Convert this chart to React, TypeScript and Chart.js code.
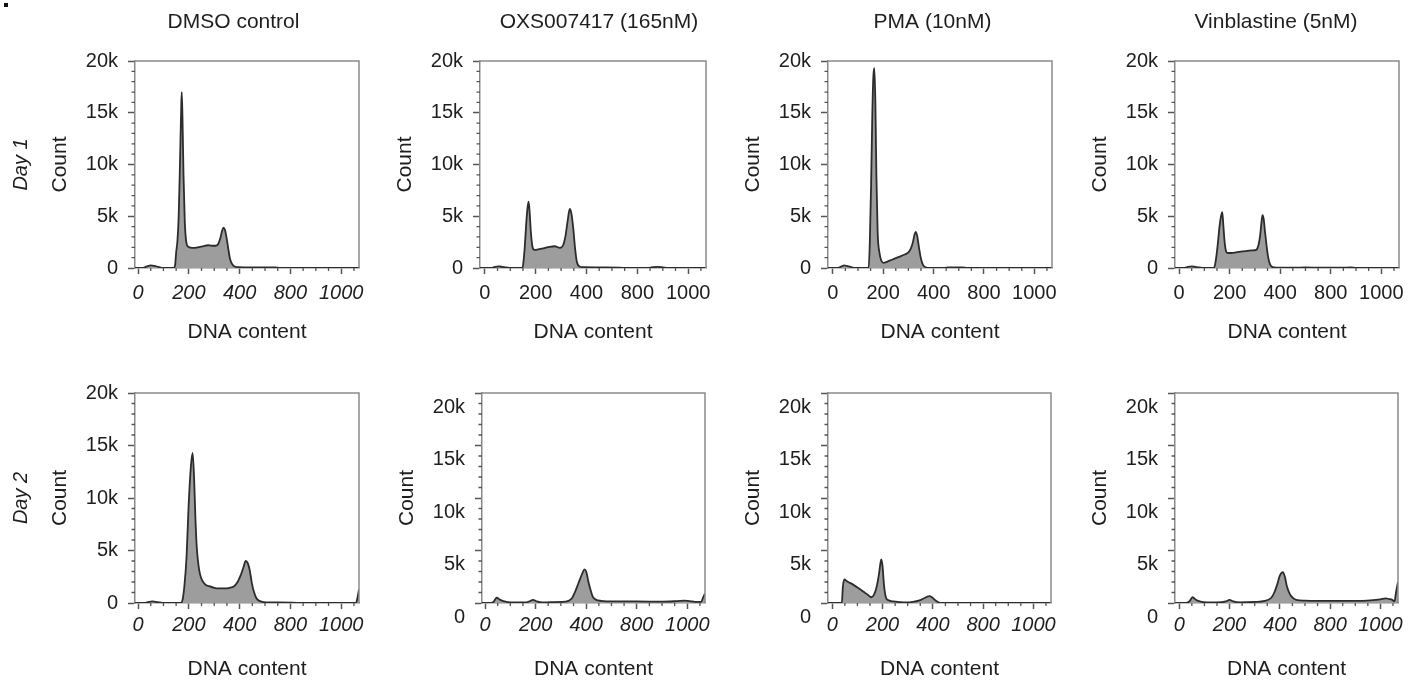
import React, { useEffect, useRef } from 'react';
import { Chart, registerables } from 'chart.js';

Chart.register(...registerables);

const FONT = "'Liberation Sans', Arial, Helvetica, sans-serif";
const TEXT = '#1e1e1e';

// ---------- labels ----------
const COLUMN_TITLES = ['DMSO control', 'OXS007417 (165nM)', 'PMA (10nM)', 'Vinblastine (5nM)'];
const ROW_LABELS = ['Day 1', 'Day 2'];
const X_TITLE = 'DNA content';
const Y_TITLE = 'Count';
const X_TICK_VALUES = [0, 200, 400, 600, 800];
const X_TICK_LABELS = ['0', '200', '400', '800', '1000'];
const X_MINOR_TICKS = [50, 100, 150, 250, 300, 350, 450, 500, 550, 650, 700, 750, 850];
const Y_TICK_VALUES = [0, 5000, 10000, 15000, 20000];
const Y_TICK_LABELS = ['0', '5k', '10k', '15k', '20k'];
const Y_MINOR_TICKS = [1000, 2000, 3000, 4000, 6000, 7000, 8000, 9000, 11000, 12000, 13000, 14000, 16000, 17000, 18000, 19000];

// ---------- data (DNA content channel, cell count) ----------
// Day 1
const D1_DMSO_X = [-12, 20, 35, 50, 65, 80, 100, 140, 146, 150, 155, 160, 165, 170, 172, 175, 179, 184, 190, 198, 215, 235, 255, 275, 290, 305, 315, 323, 330, 336, 342, 348, 355, 362, 370, 380, 395, 450, 540, 560, 870];
const D1_DMSO_Y = [0, 0, 150, 250, 200, 100, 0, 0, 300, 1500, 2600, 5000, 10000, 15500, 17000, 14500, 9000, 4500, 2500, 2050, 1950, 2000, 2100, 2200, 2150, 2150, 2300, 2800, 3500, 3900, 3700, 3000, 1900, 900, 400, 150, 80, 60, 50, 0, 0];

const D1_OXS_X = [-19, 25, 40, 55, 70, 85, 100, 148, 152, 157, 162, 167, 172, 176, 181, 187, 195, 210, 230, 255, 275, 295, 308, 318, 326, 334, 341, 348, 355, 362, 372, 390, 450, 530, 560, 640, 660, 680, 700, 720, 870];
const D1_OXS_Y = [0, 0, 100, 150, 100, 50, 0, 0, 600, 2000, 4000, 5600, 6400, 5500, 3500, 2100, 1750, 1800, 1900, 2050, 2100, 1950, 2200, 3200, 4600, 5700, 5200, 3800, 1900, 600, 150, 80, 60, 40, 0, 0, 80, 100, 60, 0, 0];

const D1_PMA_X = [-19, 20, 35, 45, 55, 70, 90, 110, 142, 147, 152, 157, 161, 165, 169, 173, 178, 185, 193, 202, 215, 235, 260, 285, 300, 310, 318, 324, 329, 335, 342, 350, 358, 368, 385, 440, 460, 490, 515, 535, 870];
const D1_PMA_Y = [0, 0, 150, 250, 200, 100, 0, 0, 0, 2500, 8000, 15000, 18500, 19300, 16000, 9000, 3500, 1500, 700, 500, 600, 800, 1050, 1300, 1500, 1900, 2500, 3200, 3500, 3100, 2000, 900, 300, 80, 0, 0, 50, 60, 50, 0, 0];

const D1_VIN_X = [-16, 20, 35, 50, 65, 80, 100, 138, 143, 148, 154, 160, 166, 171, 175, 180, 185, 192, 205, 225, 250, 270, 290, 305, 315, 321, 326, 330, 335, 340, 346, 352, 360, 370, 385, 450, 500, 560, 640, 680, 700, 870];
const D1_VIN_Y = [0, 0, 100, 150, 100, 50, 0, 0, 400, 1200, 2500, 4000, 5000, 5400, 4200, 2600, 1700, 1450, 1450, 1500, 1600, 1650, 1700, 1750, 2300, 3200, 4400, 5100, 4700, 3500, 2200, 1100, 350, 80, 30, 30, 60, 30, 30, 50, 0, 0];

// Day 2
const D2_DMSO_X = [-12, 25, 42, 55, 70, 85, 100, 170, 176, 182, 191, 199, 208, 215, 221, 226, 231, 241, 261, 280, 300, 320, 340, 360, 378, 392, 405, 415, 424, 432, 440, 448, 456, 466, 478, 495, 520, 610, 640, 858, 864, 870];
const D2_DMSO_Y = [0, 0, 100, 150, 100, 50, 0, 0, 400, 1500, 4400, 9200, 13000, 14300, 11700, 8000, 5400, 3100, 1850, 1600, 1450, 1400, 1400, 1450, 1600, 2000, 2700, 3400, 4000, 3800, 3100, 1900, 1100, 450, 200, 80, 60, 40, 0, 0, 500, 1300];

const D2_OXS_X = [-19, 20, 33, 46, 60, 85, 110, 160, 175, 190, 205, 225, 260, 300, 330, 345, 355, 365, 376, 386, 393, 400, 410, 418, 426, 436, 446, 470, 520, 600, 700, 760, 790, 810, 830, 855, 862, 870];
const D2_OXS_Y = [0, 0, 100, 500, 300, 100, 50, 50, 150, 300, 150, 50, 80, 100, 200, 500, 1000, 1600, 2300, 2900, 3200, 3000, 1900, 1200, 600, 350, 250, 180, 150, 150, 130, 180, 220, 180, 100, 100, 500, 900];

const D2_PMA_X = [-19, 30, 38, 42, 48, 60, 83, 105, 123, 140, 156, 166, 176, 186, 191, 195, 200, 205, 210, 215, 225, 242, 270, 294, 320, 347, 365, 378, 387, 396, 408, 420, 433, 450, 870];
const D2_PMA_Y = [0, 0, 0, 1500, 2250, 2050, 1750, 1400, 1100, 800, 550, 800, 1500, 2800, 3700, 4150, 3500, 1900, 900, 450, 250, 150, 80, 50, 100, 250, 450, 600, 650, 550, 300, 100, 0, 0, 0];

const D2_VIN_X = [-16, 25, 40, 53, 66, 85, 110, 150, 185, 200, 215, 240, 300, 340, 366, 378, 390, 400, 412, 420, 428, 437, 445, 465, 500, 600, 700, 760, 800, 821, 835, 847, 856, 862, 870];
const D2_VIN_Y = [0, 0, 150, 550, 300, 120, 60, 60, 150, 300, 150, 60, 100, 200, 500, 1000, 1800, 2600, 2950, 2500, 1600, 1000, 650, 300, 230, 200, 200, 250, 350, 450, 380, 300, 150, 1000, 2000];

const SERIES = [
  [[D1_DMSO_X, D1_DMSO_Y], [D1_OXS_X, D1_OXS_Y], [D1_PMA_X, D1_PMA_Y], [D1_VIN_X, D1_VIN_Y]],
  [[D2_DMSO_X, D2_DMSO_Y], [D2_OXS_X, D2_OXS_Y], [D2_PMA_X, D2_PMA_Y], [D2_VIN_X, D2_VIN_Y]],
];

// ---------- layout (pixels) ----------
const ROW_GEOM = [
  { top: 0, height: 345, padTop: 61, xAxisH: 77, tickPad: 7.5, titlePadBottom: 0 },
  { top: 340, height: 344, padTop: 53, xAxisH: 81, tickPad: 4.5, titlePadBottom: 2.4 },
];
const BOX_LR = [
  [[135, 359], [480, 706], [828, 1052], [1175, 1399]],
  [[135, 359], [482, 705], [828, 1051], [1175, 1398]],
];
const X_MIN = [
  [-12, -19, -19, -16],
  [-12, -12, -17, -17],
];
const X_MAX = 870;
const Y_AXIS_W = 102;
const DAY_W = 33;
const PAD_RIGHT = 16;
const COL_TITLE_DX = [98.5, 119, 104.5, 101];
const COL_TITLE_Y = 22.5;

const minorTicksPlugin = {
  id: 'minorTicks',
  afterDraw(chart: any, _args: any, opts: any) {
    const { ctx, chartArea: a, scales } = chart;
    const xs = scales.x;
    const ys = scales.y;
    ctx.save();
    ctx.strokeStyle = opts.color;
    ctx.lineWidth = opts.width;
    ctx.beginPath();
    for (const v of X_MINOR_TICKS) {
      const px = xs.getPixelForValue(v);
      ctx.moveTo(px, a.bottom);
      ctx.lineTo(px, a.bottom + opts.xLen);
    }
    for (const v of Y_MINOR_TICKS) {
      const py = ys.getPixelForValue(v);
      ctx.moveTo(a.left - opts.yLen, py);
      ctx.lineTo(a.left, py);
    }
    ctx.stroke();
    ctx.restore();
  },
};

const framePlugin = {
  id: 'frame',
  afterDraw(chart: any, _args: any, opts: any) {
    const { ctx, chartArea: a } = chart;
    ctx.save();
    ctx.strokeStyle = opts.color;
    ctx.lineWidth = opts.width;
    ctx.beginPath();
    ctx.moveTo(a.left, a.top);
    ctx.lineTo(a.right, a.top);
    ctx.lineTo(a.right, a.bottom);
    ctx.stroke();
    ctx.restore();
  },
};

const colTitlePlugin = {
  id: 'colTitle',
  afterDraw(chart: any, _args: any, opts: any) {
    if (!opts.text) return;
    const { ctx, chartArea: a } = chart;
    ctx.save();
    ctx.fillStyle = TEXT;
    ctx.font = `21px ${FONT}`;
    ctx.textAlign = 'center';
    ctx.textBaseline = 'middle';
    ctx.fillText(opts.text, a.left + opts.dx, opts.y);
    ctx.restore();
  },
};

function buildConfig(row: number, col: number): any {
  const g = ROW_GEOM[row];
  const [xs, ys] = SERIES[row][col];
  const italicX = row === 1 || col === 0;
  const yLabelOffset = row === 1 && col > 0 ? 14 : 0;
  return {
    type: 'line',
    data: {
      datasets: [
        {
          data: xs.map((v: number, i: number) => ({ x: v, y: ys[i] })),
          fill: 'origin',
          backgroundColor: '#9d9d9d',
          borderColor: '#2c2c2c',
          borderWidth: 1.8,
          pointRadius: 0,
          cubicInterpolationMode: 'monotone',
        },
      ],
    },
    options: {
      responsive: false,
      animation: false,
      events: [],
      layout: { padding: { left: 0, right: PAD_RIGHT, top: g.padTop, bottom: 0 } },
      plugins: {
        legend: { display: false },
        tooltip: { enabled: false },
        title: {
          display: col === 0,
          text: ROW_LABELS[row],
          position: 'left',
          fullSize: false,
          color: TEXT,
          font: { family: FONT, size: 20, style: 'italic', weight: 'normal', lineHeight: 1.2 },
          padding: { top: 9, bottom: 0 },
        },
        colTitle: { text: row === 0 ? COLUMN_TITLES[col] : '', dx: COL_TITLE_DX[col], y: COL_TITLE_Y },
        minorTicks: { color: '#555', width: 1.3, xLen: 3, yLen: 3.5 },
        frame: { color: '#8a8a8a', width: 1.5 },
      },
      scales: {
        x: {
          type: 'linear',
          min: X_MIN[row][col],
          max: X_MAX,
          afterBuildTicks: (s: any) => {
            s.ticks = X_TICK_VALUES.map((v) => ({ value: v }));
          },
          afterFit: (s: any) => {
            s.height = g.xAxisH;
          },
          ticks: {
            autoSkip: false,
            maxRotation: 0,
            padding: g.tickPad,
            color: TEXT,
            font: { family: FONT, size: 20, style: italicX ? 'italic' : 'normal' },
            callback: (v: number) => X_TICK_LABELS[X_TICK_VALUES.indexOf(v)],
          },
          grid: { display: true, drawOnChartArea: false, drawTicks: true, tickLength: 6, tickColor: '#555', tickWidth: 1.5 },
          border: { display: true, color: '#8a8a8a', width: 1.5 },
          title: {
            display: true,
            text: X_TITLE,
            color: TEXT,
            font: { family: FONT, size: 21, lineHeight: 1.2 },
            padding: { top: 0, bottom: g.titlePadBottom },
          },
        },
        y: {
          type: 'linear',
          min: 0,
          max: 20000,
          afterBuildTicks: (s: any) => {
            s.ticks = Y_TICK_VALUES.map((v) => ({ value: v }));
          },
          afterFit: (s: any) => {
            s.width = Y_AXIS_W;
          },
          ticks: {
            autoSkip: false,
            padding: 10,
            labelOffset: yLabelOffset,
            color: TEXT,
            font: { family: FONT, size: 20 },
            callback: (v: number) => Y_TICK_LABELS[Y_TICK_VALUES.indexOf(v)],
          },
          grid: { display: true, drawOnChartArea: false, drawTicks: true, tickLength: 7, tickColor: '#555', tickWidth: 1.5 },
          border: { display: true, color: '#8a8a8a', width: 1.5 },
          title: {
            display: true,
            text: Y_TITLE,
            color: TEXT,
            font: { family: FONT, size: 21, lineHeight: 1.2 },
            padding: { top: 15, bottom: 0 },
          },
        },
      },
    },
    plugins: [minorTicksPlugin, framePlugin, colTitlePlugin],
  };
}

function Panel({ row, col }: { row: number; col: number }) {
  const ref = useRef<HTMLCanvasElement>(null);
  const g = ROW_GEOM[row];
  const [boxL, boxR] = BOX_LR[row][col];
  const left = col === 0 ? boxL - Y_AXIS_W - DAY_W : boxL - Y_AXIS_W;
  const width = boxR + PAD_RIGHT - left;
  useEffect(() => {
    const chart = new Chart(ref.current as HTMLCanvasElement, buildConfig(row, col));
    return () => chart.destroy();
  }, [row, col]);
  return (
    <canvas
      ref={ref}
      width={width}
      height={g.height}
      style={{ position: 'absolute', left, top: g.top, width, height: g.height }}
    />
  );
}

export default function App() {
  useEffect(() => {
    document.body.style.margin = '0';
  }, []);
  const cells: Array<[number, number]> = [];
  for (let r = 0; r < 2; r++) for (let c = 0; c < 4; c++) cells.push([r, c]);
  return (
    <div style={{ position: 'fixed', left: 0, top: 0, width: 1418, height: 684, background: '#fff', overflow: 'hidden' }}>
      <div style={{ position: 'absolute', left: 4, top: 3, width: 4, height: 4, background: '#111' }} />
      {cells.map(([r, c]) => (
        <Panel key={`${r}-${c}`} row={r} col={c} />
      ))}
    </div>
  );
}
